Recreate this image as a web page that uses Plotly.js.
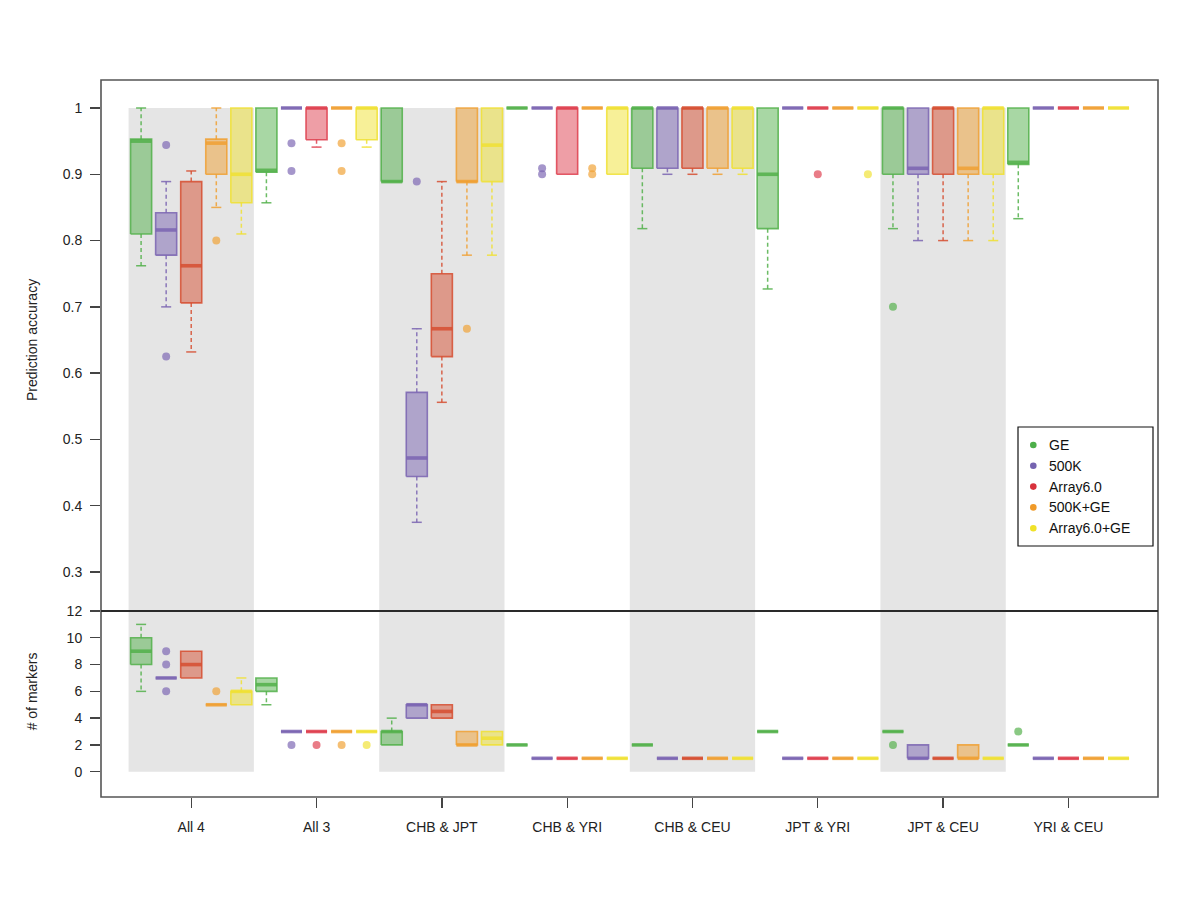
<!DOCTYPE html>
<html><head><meta charset="utf-8">
<script src="https://cdn.plot.ly/plotly-3.0.1.min.js"></script>
<style>html,body{margin:0;padding:0;background:#fff}#chart{width:1200px;height:900px}</style>
</head><body><div id="chart"></div>
<script>
const groups = ["All 4", "All 3", "CHB & JPT", "CHB & YRI", "CHB & CEU", "JPT & YRI", "JPT & CEU", "YRI & CEU"];
const seriesNames = ["GE", "500K", "Array6.0", "500K+GE", "Array6.0+GE"];

// Prediction accuracy, per group: [lower whisker, Q1, median, Q3, upper whisker]
const accGE = [[0.762,0.810,0.950,0.953,1.0],[0.857,0.903,0.906,1.0,1.0],[0.889,0.889,0.889,1.0,1.0],[1,1,1,1,1],
  [0.818,0.909,1.0,1.0,1.0],[0.727,0.818,0.900,1.0,1.0],[0.818,0.900,1.0,1.0,1.0],[0.833,0.915,0.918,1.0,1.0]];
const acc500K = [[0.700,0.778,0.816,0.842,0.889],[1,1,1,1,1],[0.375,0.444,0.472,0.571,0.667],[1,1,1,1,1],
  [0.900,0.909,1.0,1.0,1.0],[1,1,1,1,1],[0.800,0.900,0.909,1.0,1.0],[1,1,1,1,1]];
const accArr = [[0.632,0.706,0.762,0.889,0.905],[0.941,0.952,1.0,1.0,1.0],[0.556,0.625,0.667,0.750,0.889],[0.900,0.900,1.0,1.0,1.0],
  [0.900,0.909,1.0,1.0,1.0],[1,1,1,1,1],[0.800,0.900,1.0,1.0,1.0],[1,1,1,1,1]];
const acc500KGE = [[0.850,0.900,0.947,0.953,1.0],[1,1,1,1,1],[0.778,0.889,0.889,1.0,1.0],[1,1,1,1,1],
  [0.900,0.909,1.0,1.0,1.0],[1,1,1,1,1],[0.800,0.900,0.909,1.0,1.0],[1,1,1,1,1]];
const accArrGE = [[0.810,0.857,0.900,1.0,1.0],[0.941,0.952,1.0,1.0,1.0],[0.778,0.889,0.944,1.0,1.0],[0.900,0.900,1.0,1.0,1.0],
  [0.900,0.909,1.0,1.0,1.0],[1,1,1,1,1],[0.800,0.900,1.0,1.0,1.0],[1,1,1,1,1]];

// Prediction accuracy outliers, per group
const accGEOut = [[],[],[],[],[],[],[0.70],[]];
const acc500KOut = [[0.944,0.625],[0.947,0.905],[0.889],[0.909,0.900],[],[],[],[]];
const accArrOut = [[],[],[],[],[],[0.900],[],[]];
const acc500KGEOut = [[0.800],[0.947,0.905],[0.667],[0.909,0.900],[],[],[],[]];
const accArrGEOut = [[],[],[],[],[],[0.900],[],[]];

// Number of markers, per group: [lower whisker, Q1, median, Q3, upper whisker]
const mkGE = [[6,8,9,10,11],[5,6,6.5,7,7],[2,2,3,3,4],[2,2,2,2,2],[2,2,2,2,2],[3,3,3,3,3],[3,3,3,3,3],[2,2,2,2,2]];
const mk500K = [[7,7,7,7,7],[3,3,3,3,3],[4,4,5,5,5],[1,1,1,1,1],[1,1,1,1,1],[1,1,1,1,1],[1,1,1,2,2],[1,1,1,1,1]];
const mkArr = [[7,7,8,9,9],[3,3,3,3,3],[4,4,4.5,5,5],[1,1,1,1,1],[1,1,1,1,1],[1,1,1,1,1],[1,1,1,1,1],[1,1,1,1,1]];
const mk500KGE = [[5,5,5,5,5],[3,3,3,3,3],[2,2,2,3,3],[1,1,1,1,1],[1,1,1,1,1],[1,1,1,1,1],[1,1,1,2,2],[1,1,1,1,1]];
const mkArrGE = [[5,5,6,6,7],[3,3,3,3,3],[2,2,2.5,3,3],[1,1,1,1,1],[1,1,1,1,1],[1,1,1,1,1],[1,1,1,1,1],[1,1,1,1,1]];

// Number of markers outliers, per group
const mkGEOut = [[],[],[],[],[],[],[2],[3]];
const mk500KOut = [[9,8,6],[2],[],[],[],[],[],[]];
const mkArrOut = [[],[2],[],[],[],[],[],[]];
const mk500KGEOut = [[6],[2],[],[],[],[],[],[]];
const mkArrGEOut = [[],[2],[],[],[],[],[],[]];

// colours
const seriesColors = [[82,176,74],[122,100,178],[222,62,78],[240,160,50],[240,225,50]];
const redOnGrey = [214,78,48];
const legendColors = ["#4daf4a","#7563b0","#d8323c","#f09a28","#f0e228"];

function rgba(c,a){return "rgba("+c[0]+","+c[1]+","+c[2]+","+a+")";}
function colorFor(s,g){ if(s===2 && g%2===0) return redOnGrey; return seriesColors[s]; }

const HW = 0.084, CW = 0.04, STEP = 0.2;
const traces = [];

function addBoxes(stats, outs, s, yax){
  for(let g=0; g<stats.length; g++){
    const [lo,q1,md,q3,hi] = stats[g];
    const xc = g + (s-2)*STEP;
    const c = colorFor(s,g);
    const base = {yaxis:yax, xaxis:"x", hoverinfo:"skip", showlegend:false, mode:"lines"};
    if(q3>q1){
      traces.push(Object.assign({}, base, {x:[xc-HW,xc+HW,xc+HW,xc-HW,xc-HW], y:[q1,q1,q3,q3,q1],
        fill:"toself", fillcolor:rgba(c,0.5), line:{color:rgba(c,0.85), width:1.6}}));
    } else {
      traces.push(Object.assign({}, base, {x:[xc-HW,xc+HW], y:[q1,q1], line:{color:rgba(c,0.85), width:1.6}}));
    }
    traces.push(Object.assign({}, base, {x:[xc-HW,xc+HW], y:[md,md], line:{color:rgba(c,0.85), width:3.6}}));
    const wx=[], wy=[], cx=[], cy=[];
    if(hi>q3){ wx.push(xc,xc,null); wy.push(q3,hi,null); cx.push(xc-CW,xc+CW,null); cy.push(hi,hi,null); }
    if(lo<q1){ wx.push(xc,xc,null); wy.push(q1,lo,null); cx.push(xc-CW,xc+CW,null); cy.push(lo,lo,null); }
    if(wx.length){
      traces.push(Object.assign({}, base, {x:wx, y:wy, line:{color:rgba(c,0.85), width:1.5, dash:"4px,3px"}}));
      traces.push(Object.assign({}, base, {x:cx, y:cy, line:{color:rgba(c,0.85), width:1.5}}));
    }
    if(outs[g].length){
      traces.push(Object.assign({}, base, {mode:"markers", x:outs[g].map(()=>xc), y:outs[g],
        marker:{size:8, color:rgba(c,0.68), line:{width:0}}}));
    }
  }
}

const accAll = [accGE, acc500K, accArr, acc500KGE, accArrGE];
const accOutAll = [accGEOut, acc500KOut, accArrOut, acc500KGEOut, accArrGEOut];
const mkAll = [mkGE, mk500K, mkArr, mk500KGE, mkArrGE];
const mkOutAll = [mkGEOut, mk500KOut, mkArrOut, mk500KGEOut, mkArrGEOut];
for(let s=0;s<5;s++){
  addBoxes(accAll[s], accOutAll[s], s, "y");
  addBoxes(mkAll[s], mkOutAll[s], s, "y2");
}

const yTopRange = [0.24117, 1.04224];
const yBotRange = [-1.889, 12];
const splitY = 0.2594;
const shapes = [];
for(let g=0; g<groups.length; g+=2){
  shapes.push({type:"rect", xref:"x", yref:"y", x0:g-0.5, x1:g+0.5, y0:yTopRange[0], y1:1.0,
    fillcolor:"#e5e5e5", line:{width:0}, layer:"below"});
  shapes.push({type:"rect", xref:"x", yref:"y2", x0:g-0.5, x1:g+0.5, y0:0, y1:yBotRange[1],
    fillcolor:"#e5e5e5", line:{width:0}, layer:"below"});
}
// frame and divider
shapes.push({type:"rect", xref:"paper", yref:"paper", x0:0, x1:1, y0:0, y1:1, line:{color:"#555", width:1.6}, layer:"above"});
shapes.push({type:"line", xref:"paper", yref:"paper", x0:0, x1:1, y0:splitY, y1:splitY, line:{color:"#2a2a2a", width:2}, layer:"above"});

// legend (drawn manually)
const PW = 1057, PH = 717;
function px2x(px){return (px-101)/PW;}
function py2y(py){return (797-py)/PH;}
shapes.push({type:"rect", xref:"paper", yref:"paper", x0:px2x(1018), x1:px2x(1153), y0:py2y(546), y1:py2y(427),
  fillcolor:"#fff", line:{color:"#111", width:1.2}, layer:"above"});
const fontF = "Liberation Sans, Arial, sans-serif";
const annotations = [];
for(let i=0;i<seriesNames.length;i++){
  const cy = 445 + 20.8*i;
  shapes.push({type:"circle", xref:"paper", yref:"paper", x0:px2x(1033.3-3.3), x1:px2x(1033.3+3.3),
    y0:py2y(cy+3.3), y1:py2y(cy-3.3), fillcolor:legendColors[i], line:{width:0}, layer:"above"});
  annotations.push({xref:"paper", yref:"paper", x:px2x(1047), y:py2y(cy), xanchor:"left", yanchor:"middle",
    text:seriesNames[i], showarrow:false, font:{size:14, color:"#111", family:fontF}});
}
annotations.push({xref:"paper", yref:"y", x:px2x(32), y:0.65, text:"Prediction accuracy", textangle:-90,
  showarrow:false, xanchor:"center", yanchor:"middle", font:{size:14, color:"#222", family:fontF}});
annotations.push({xref:"paper", yref:"y2", x:px2x(32), y:6, text:"# of markers", textangle:-90,
  showarrow:false, xanchor:"center", yanchor:"middle", font:{size:14, color:"#222", family:fontF}});

const layout = {
  width:1200, height:900,
  margin:{l:101, r:42, t:80, b:103},
  paper_bgcolor:"#fff", plot_bgcolor:"rgba(0,0,0,0)",
  showlegend:false,
  font:{family:fontF, size:14, color:"#222"},
  xaxis:{anchor:"y2", range:[-0.72, 7.715], tickmode:"array", tickvals:groups.map((_,i)=>i), ticktext:groups,
    ticks:"outside", ticklen:10, tickwidth:1.3, tickcolor:"#444", showgrid:false, zeroline:false, showline:false,
    ticklabelstandoff:7, tickfont:{size:14, color:"#222", family:fontF}},
  yaxis:{domain:[splitY,1], range:yTopRange, tickmode:"array", tickvals:[0.3,0.4,0.5,0.6,0.7,0.8,0.9,1],
    ticktext:["0.3","0.4","0.5","0.6","0.7","0.8","0.9","1"], ticks:"outside", ticklen:10, tickwidth:1.3, tickcolor:"#444",
    showgrid:false, zeroline:false, showline:false, ticklabelstandoff:5, tickfont:{size:14, color:"#222", family:fontF}},
  yaxis2:{domain:[0,splitY], range:yBotRange, tickmode:"array", tickvals:[0,2,4,6,8,10,12],
    ticktext:["0","2","4","6","8","10","12"], ticks:"outside", ticklen:10, tickwidth:1.3, tickcolor:"#444",
    showgrid:false, zeroline:false, showline:false, ticklabelstandoff:5, tickfont:{size:14, color:"#222", family:fontF}},
  shapes:shapes, annotations:annotations
};
Plotly.newPlot("chart", traces, layout, {displayModeBar:false, staticPlot:true});
</script></body></html>
